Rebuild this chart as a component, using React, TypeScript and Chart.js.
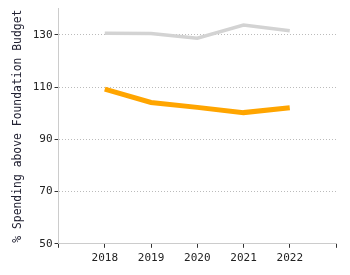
import React, { useEffect, useRef } from "react";
import { Chart, registerables } from "chart.js";

Chart.register(...registerables);

const years = [2018, 2019, 2020, 2021, 2022];
const districtSpending = [109.2, 104.1, 102.2, 100.2, 102.1];
const stateSpending = [130.6, 130.5, 128.7, 133.7, 131.5];
const yTicks = [50, 70, 90, 110, 130];

export default function App() {
  const ref = useRef<HTMLCanvasElement | null>(null);

  useEffect(() => {
    document.body.style.margin = "0";
    const ctx = ref.current!.getContext("2d")!;
    const font = { family: "DejaVu Sans Mono", size: 11 };
    const chart = new Chart(ctx, {
      type: "line",
      data: {
        datasets: [
          {
            label: "State",
            data: years.map((x, i) => ({ x, y: stateSpending[i] })),
            borderColor: "#d3d3d3",
            borderWidth: 3.5,
            pointRadius: 0,
            tension: 0,
          },
          {
            label: "District",
            data: years.map((x, i) => ({ x, y: districtSpending[i] })),
            borderColor: "#ffa500",
            borderWidth: 5,
            pointRadius: 0,
            tension: 0,
          },
        ],
      },
      options: {
        animation: false,
        responsive: false,
        layout: { padding: { top: 8, right: 14, left: 11, bottom: 6 } },
        plugins: { legend: { display: false }, tooltip: { enabled: false } },
        scales: {
          x: {
            type: "linear",
            min: 2017,
            max: 2023,
            ticks: {
              stepSize: 1,
              font,
              color: "#222",
              padding: 4,
              callback: (v: any) => (years.includes(Number(v)) ? String(v) : ""),
            },
            grid: {
              drawOnChartArea: false,
              tickLength: 4,
              tickColor: "#333",
            },
            border: { color: "#cccccc" },
          },
          y: {
            min: 50,
            max: 140,
            afterBuildTicks: (axis: any) => {
              axis.ticks = yTicks.map((value) => ({ value }));
            },
            ticks: { font, color: "#222", padding: 2 },
            grid: {
              color: "#bbbbbb",
              tickColor: "#333",
              tickLength: 4,
              tickBorderDash: [],
            },
            border: { color: "#cccccc", dash: [1, 2] },
            title: {
              display: true,
              text: "% Spending above Foundation Budget",
              font: { family: "DejaVu Sans Mono", size: 11.4 },
              color: "#223",
              padding: { top: 0, bottom: 6 },
            },
          },
        },
      },
    });
    return () => chart.destroy();
  }, []);

  return (
    <div style={{ position: "relative", width: 350, height: 275 }}>
      <canvas ref={ref} width={350} height={275} />
    </div>
  );
}
